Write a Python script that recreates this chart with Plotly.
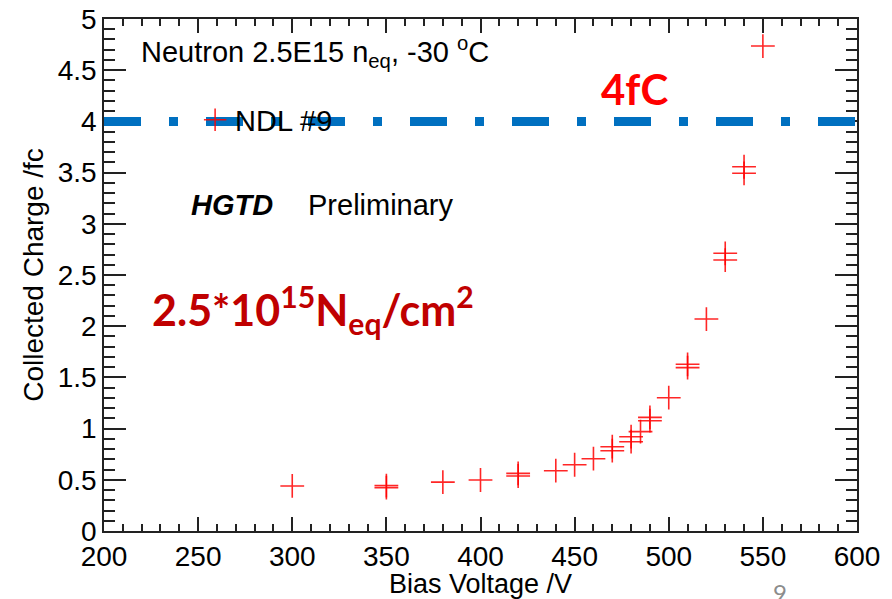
import plotly.graph_objects as go

# ---- data ----
bias_voltage = [300, 350, 350, 380, 400, 420, 420, 440, 450, 460, 470, 470,
                480, 480, 485, 490, 490, 500, 510, 510, 520, 530, 530,
                540, 540, 550]
collected_charge = [0.44, 0.443, 0.423, 0.477, 0.498, 0.563, 0.537, 0.589, 0.647, 0.706, 0.823, 0.784,
                    0.921, 0.872, 0.970, 1.110, 1.077, 1.302, 1.628, 1.595, 2.070, 2.712, 2.646,
                    3.557, 3.493, 4.736]
series_name = "NDL #9"
threshold_fc = 4.0

x_range = [200, 600]
y_range = [0, 5]

ROOT_FONT = "Liberation Sans, Arial, Helvetica, sans-serif"
SLIDE_FONT = "Lato, Open Sans, sans-serif"

fig = go.Figure()
fig.add_trace(go.Scatter(
    x=bias_voltage, y=collected_charge, mode="markers", name=series_name,
    marker=dict(symbol="cross-thin", size=17,
                line=dict(color="rgba(255,0,0,0.85)", width=1.6),
                color="rgba(255,0,0,0.85)"),
    showlegend=True,
))

# 4 fC threshold line (dash-dot)
fig.add_shape(type="line", xref="x domain", x0=0, x1=1, yref="y",
              y0=threshold_fc, y1=threshold_fc, layer="above",
              line=dict(color="#0070C0", width=9, dash="37px,28px,9px,28px"))

axis_common = dict(
    showline=True, linecolor="#222222", linewidth=1.5, mirror="ticks",
    ticks="inside", tickcolor="#222222", tickwidth=1.5,
    showgrid=False, zeroline=False, automargin=False,
    ticklabeloverflow="allow",
    tickfont=dict(family=ROOT_FONT, size=28, color="black"),
)

fig.update_xaxes(
    range=x_range, dtick=50, tick0=200, ticklen=14,
    minor=dict(dtick=10, ticklen=7, ticks="inside", tickcolor="#222222", tickwidth=1.5, showgrid=False),
    title=dict(text="Bias Voltage /V", font=dict(family=ROOT_FONT, size=27, color="black"), standoff=0),
    **axis_common,
)
fig.update_yaxes(
    range=y_range, dtick=0.5, tick0=0, ticklen=22,
    minor=dict(dtick=0.1, ticklen=11, ticks="inside", tickcolor="#222222", tickwidth=1.5, showgrid=False),
    title=dict(text="Collected Charge /fc", font=dict(family=ROOT_FONT, size=28, color="black"), standoff=6),
    **axis_common,
)

annotations = [
    dict(text="Neutron 2.5E15 n<sub>eq</sub>, -30 <sup>o</sup>C", x=0.0465, y=0.935,
         xanchor="left", yanchor="middle", font=dict(family=ROOT_FONT, size=29, color="black")),
    dict(text="<b><i>HGTD</i></b>", x=0.113, y=0.637, xanchor="left", yanchor="middle",
         font=dict(family=ROOT_FONT, size=29, color="black")),
    dict(text="Preliminary", x=0.268, y=0.637, xanchor="left", yanchor="middle",
         font=dict(family=ROOT_FONT, size=29, color="black")),
    dict(text="<b>4fC</b>", x=0.7045, y=0.863, xanchor="center", yanchor="middle",
         font=dict(family=SLIDE_FONT, size=42, color="#FF0000")),
    dict(text="<b>2.5*10<sup>15</sup>N<sub>eq</sub>/cm<sup>2</sup></b>", x=0.0617, y=0.432,
         xanchor="left", yanchor="middle", font=dict(family=SLIDE_FONT, size=43, color="#C00000")),
    dict(text="9", x=0.898, y=-0.121, xanchor="center", yanchor="middle",
         font=dict(family=SLIDE_FONT, size=24, color="#8C8C8C")),
]
for a in annotations:
    a.update(xref="paper", yref="paper", showarrow=False)

# the page body adds an 8 px offset, so the figure is 8 px smaller with less left/top margin
fig.update_layout(
    template="none",
    width=884, height=591,
    margin=dict(l=96, r=35, t=11, b=68),
    paper_bgcolor="white", plot_bgcolor="white",
    annotations=annotations,
    legend=dict(x=0.121, y=0.803, xanchor="left", yanchor="middle",
                bgcolor="rgba(0,0,0,0)", borderwidth=0,
                font=dict(family=ROOT_FONT, size=29, color="black")),
    showlegend=True,
)

fig.write_html("out.html")
